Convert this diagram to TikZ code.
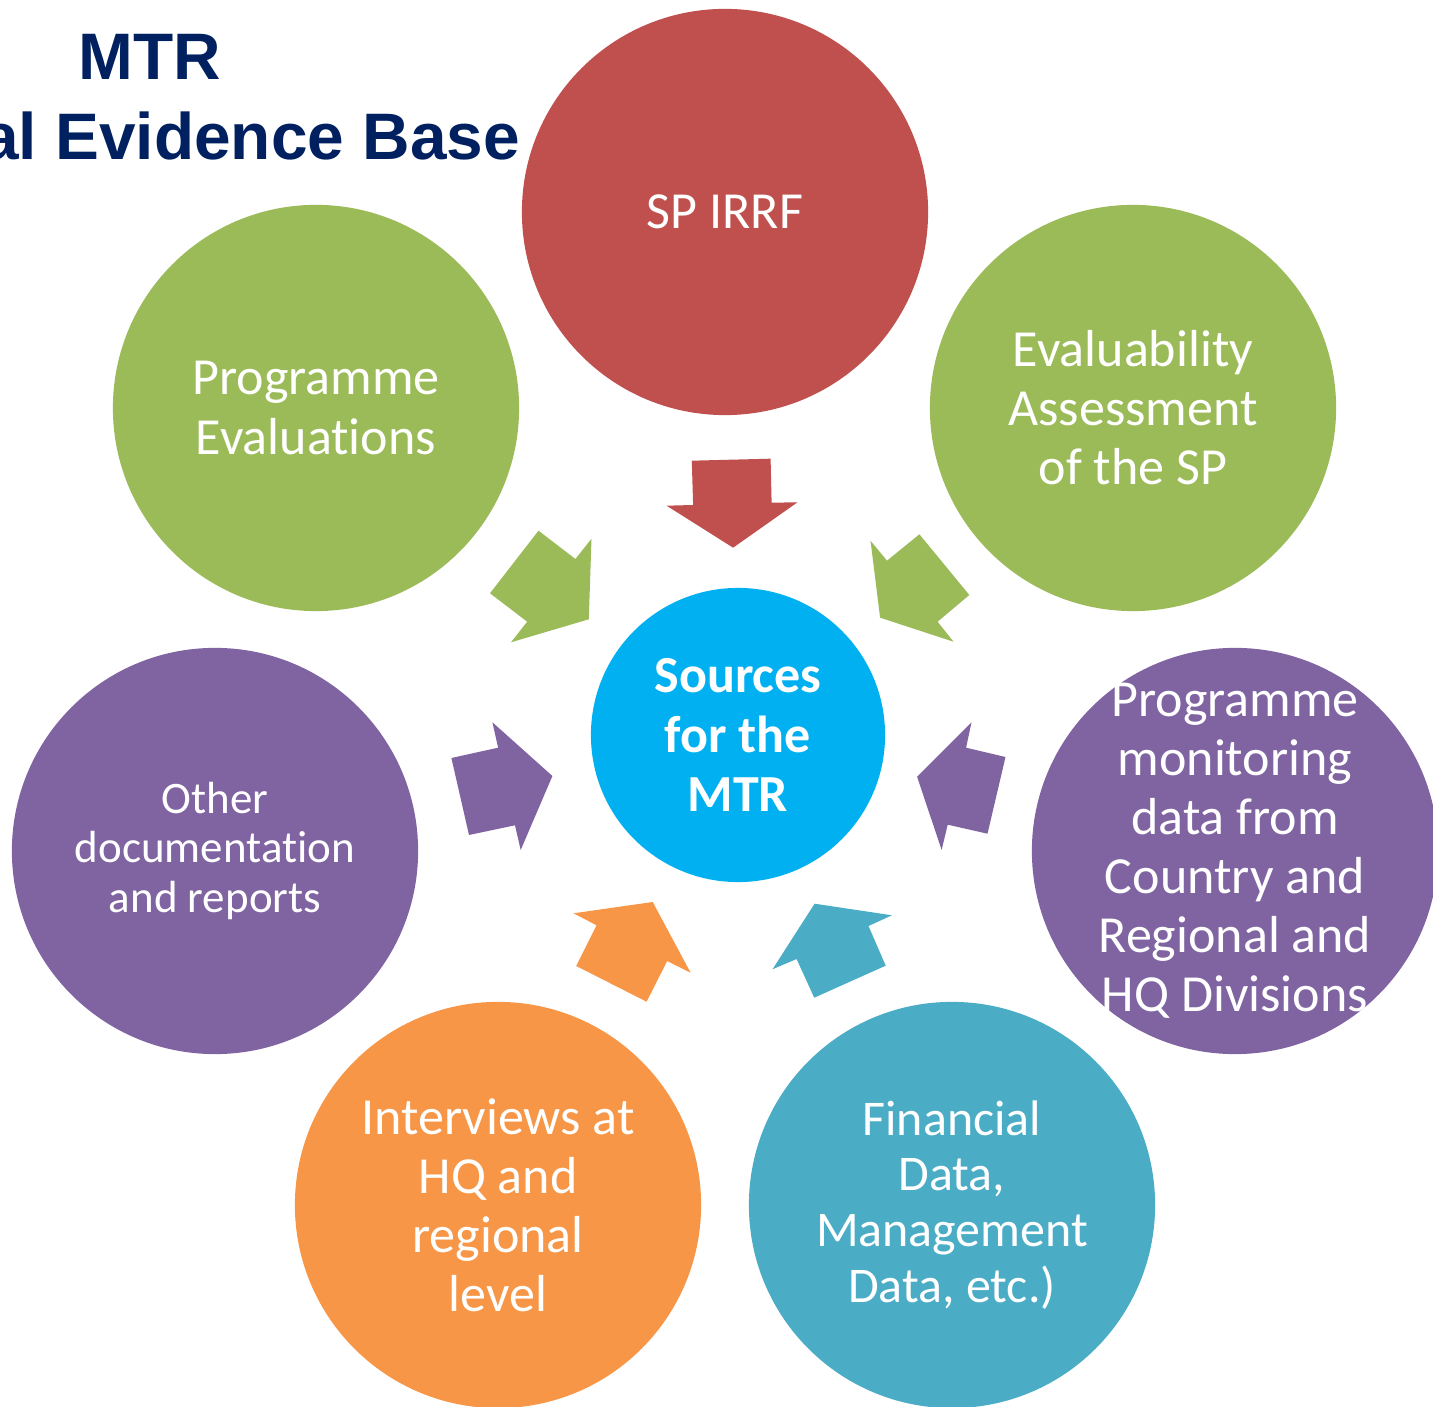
\documentclass[tikz,border=0pt]{standalone}
\usepackage{fontspec}
\setmainfont{Carlito}[Ligatures=NoCommon]
\newfontfamily\headfont{Liberation Sans}

\definecolor{irrfred}{HTML}{C0504D}
\definecolor{evalgreen}{HTML}{9BBB59}
\definecolor{docpurple}{HTML}{8064A2}
\definecolor{talkorange}{HTML}{F79646}
\definecolor{datateal}{HTML}{4BACC6}
\definecolor{hubblue}{HTML}{00B0F0}
\definecolor{titlenavy}{HTML}{002060}

\begin{document}
\begin{tikzpicture}[x=0.01cm,y=-0.01cm]
    \pgfmathsetmacro{\bubblediameter}{4.06}
    \pgfmathsetmacro{\hubdiameter}{2.94}
    \providecommand{\bubblefont}{\fontsize{14.8pt}{16.8pt}\selectfont}
    \providecommand{\smallbubblefont}{\fontsize{12.8pt}{14.2pt}\selectfont}
    \providecommand{\databubblefont}{\fontsize{14.2pt}{15.9pt}\selectfont}
    \providecommand{\titlefontsize}{\fontsize{18.7pt}{22.5pt}\selectfont}
    \tikzset{
        bubble/.style={circle,inner sep=0,minimum size=\bubblediameter cm,text=white,align=center,font=\bubblefont},
        bubbletext/.style={inner sep=0,text=white,align=center,font=\bubblefont},
        hub/.style={circle,inner sep=0,minimum size=\hubdiameter cm,fill=hubblue,text=white,align=center,font=\bubblefont\bfseries},
        heading/.style={inner sep=0,text=titlenavy,font=\headfont\titlefontsize\bfseries}
    }
    \useasboundingbox (0,0) rectangle (1433,1407);
    % title, cut at the left edge
    \node[heading,anchor=base] (titletop) at (149.6,80) {MTR};
    \node[heading,anchor=base east] (titlebottom) at (520.5,159.3) {al Evidence Base};
    % source bubbles
    \node[bubble,fill=irrfred] (irrf) at (725,212) {SP IRRF};
    \node[bubble,fill=evalgreen] (progeval) at (316,408) {Programme\\Evaluations};
    \node[bubble,fill=evalgreen] (evaluability) at (1133,408) {Evaluability\\Assessment\\of the SP};
    \node[bubble,fill=docpurple,font=\smallbubblefont] (otherdocs) at (215,851) {Other\\documentation\\and reports};
    \node[bubble,fill=docpurple] (monitoring) at (1235,851) {};
    \node[bubbletext] (monitoringtext) at (monitoring) {Programme\\monitoring\\data from\\Country and\\Regional and\\HQ Divisions};
    \node[bubble,fill=talkorange] (interviews) at (498,1205) {Interviews at\\HQ and\\regional\\level};
    \node[bubble,fill=datateal,font=\databubblefont] (financial) at (952,1205) {Financial\\Data,\\Management\\Data, etc.)};
    \node[hub] (sources) at (738,735) {Sources\\for the\\MTR};
    % block arrows towards the hub
    \fill[irrfred] (691.8,460.7) -- (770.6,458.7) -- (771.6,502.7) -- (797.5,502.3) -- (733.1,547.7) -- (666.6,505.7) -- (693.1,505) -- cycle;
    \fill[evalgreen] (538.5,530.7) -- (575.4,559) -- (591.5,538.7) -- (588.8,619.3) -- (511,642.3) -- (527.2,621.7) -- (490,593.3) -- cycle;
    \fill[evalgreen] (870.5,540.7) -- (887,560.7) -- (919.4,534.3) -- (969.3,595) -- (937.6,621.7) -- (953.5,641.7) -- (880.1,617.7) -- cycle;
    \fill[docpurple] (492.4,722.3) -- (552.4,776) -- (520.7,850) -- (515,825.3) -- (469,835) -- (451.4,758) -- (498.1,747.7) -- cycle;
    \fill[docpurple] (971.5,722.3) -- (966.1,747.7) -- (1005.5,757) -- (987.5,833.7) -- (947.7,824.7) -- (941.6,850) -- (917.1,776.7) -- cycle;
    \fill[talkorange] (573.5,913.3) -- (652.7,902) -- (690.6,972.7) -- (667.2,961) -- (646.6,1001.7) -- (576.2,966) -- (596.5,925.3) -- cycle;
    \fill[datateal] (814.6,903.7) -- (891.9,915.3) -- (868.5,926) -- (885.7,965.7) -- (814.2,997.7) -- (796.6,959) -- (772.5,969.3) -- cycle;
\end{tikzpicture}
\end{document}
